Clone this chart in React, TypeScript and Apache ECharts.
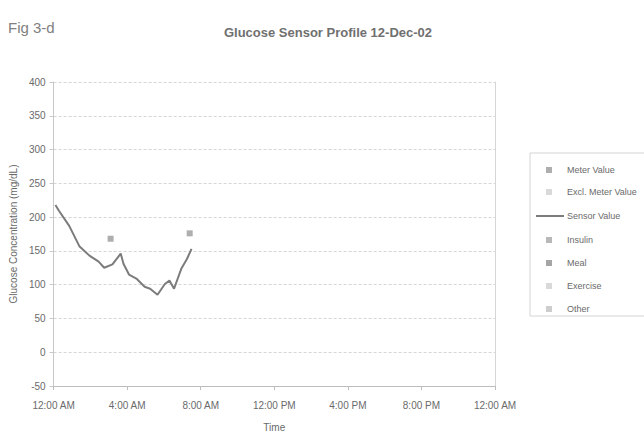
import React, { useEffect, useRef } from "react";
import * as echarts from "echarts";

// Sensor readings: hours after midnight and glucose (mg/dL)
const sensorHours = [0.1, 0.3, 0.85, 1.4, 1.95, 2.45, 2.75, 3.2, 3.65, 3.8, 4.1, 4.5, 4.95, 5.25, 5.65, 6.05, 6.3, 6.55, 6.95, 7.25, 7.5];
const sensorValues = [218, 209, 187, 157, 143, 134, 125, 130, 146, 131, 115, 109, 97, 94, 85, 101, 106, 94, 124, 138, 153];

// Meter readings
const meterHours = [3.1, 7.4];
const meterValues = [168, 176];

// Axis ticks
const xTickHours = [0, 4, 8, 12, 16, 20, 24];
const xTickLabels = ["12:00 AM", "4:00 AM", "8:00 AM", "12:00 PM", "4:00 PM", "8:00 PM", "12:00 AM"];

const legendSquares1 = ["Meter Value", "Excl. Meter Value"];
const legendLine = ["Sensor Value"];
const legendSquares2 = ["Insulin", "Meal", "Exercise", "Other"];

const textColor = "#6a6a6a";

export default function App() {
  const ref = useRef<HTMLDivElement>(null);
  useEffect(() => {
    if (!ref.current) return;
    const chart = echarts.init(ref.current, undefined, { renderer: "svg" });
    const legendText = { fontSize: 9, color: textColor, fontFamily: "Arial, Liberation Sans, sans-serif", lineHeight: 12 };
    chart.setOption({
      animation: false,
      textStyle: { fontFamily: "Arial, Liberation Sans, sans-serif" },
      title: {
        text: "Glucose Sensor Profile 12-Dec-02",
        left: 323,
        textAlign: "center",
        top: 21,
        textStyle: { fontSize: 13, fontWeight: "bold", color: "#707070" },
      },
      graphic: [
        {
          type: "text",
          left: 8,
          top: 20,
          style: { text: "Fig 3-d", fontSize: 15, fill: "#808080", fontFamily: "Arial, Liberation Sans, sans-serif" },
        },
        {
          type: "rect",
          shape: { x: 530, y: 153, width: 116, height: 163 },
          style: { fill: "none", stroke: "#d4d4d4", lineWidth: 1 },
          silent: true,
        },
      ],
      legend: [
        {
          data: legendSquares1.map((n) => ({ name: n, icon: "rect" })),
          orient: "vertical",
          left: 541,
          top: 159,
          itemWidth: 6,
          itemHeight: 6,
          itemGap: 10,
          textStyle: { ...legendText, padding: [0, 0, 0, 10] },
        },
        {
          data: legendLine.map((n) => ({ name: n, icon: "rect" })),
          orient: "vertical",
          left: 531,
          top: 205,
          itemWidth: 28,
          itemHeight: 2,
          textStyle: { ...legendText, padding: [0, 0, 0, -2] },
        },
        {
          data: legendSquares2.map((n) => ({ name: n, icon: "rect" })),
          orient: "vertical",
          left: 541,
          top: 229,
          itemWidth: 6,
          itemHeight: 6,
          itemGap: 11,
          textStyle: { ...legendText, padding: [0, 0, 0, 10] },
        },
      ],
      grid: { left: 48, right: 149, top: 82, bottom: 49, containLabel: false },
      xAxis: {
        type: "value",
        min: 0,
        max: 24,
        interval: 4,
        name: "Time",
        nameLocation: "middle",
        nameGap: 36,
        nameTextStyle: { fontSize: 10, color: textColor },
        axisLine: { show: true, onZero: false, lineStyle: { color: "#bdbdbd" } },
        axisTick: { show: true, length: 4, lineStyle: { color: "#bdbdbd" } },
        axisLabel: {
          fontSize: 10,
          color: textColor,
          margin: 14,
          formatter: (v: number) => {
            const i = xTickHours.indexOf(v);
            return i >= 0 ? xTickLabels[i] : "";
          },
        },
        splitLine: { show: false },
      },
      yAxis: [
        {
          type: "value",
          min: -50,
          max: 400,
          interval: 50,
          name: "Glucose Concentration (mg/dL)",
          nameLocation: "middle",
          nameGap: 34,
          nameTextStyle: { fontSize: 10, color: textColor },
          axisLine: { show: true, lineStyle: { color: "#c8c8c8" } },
          axisTick: { show: true, length: 4, lineStyle: { color: "#c8c8c8" } },
          axisLabel: { fontSize: 10, color: textColor, margin: 8 },
          splitLine: { show: true, lineStyle: { color: "#d6d6d6", type: [3, 2], width: 1 } },
        },
        {
          type: "value",
          min: -50,
          max: 400,
          interval: 50,
          position: "right",
          axisLine: { show: true, lineStyle: { color: "#d6d6d6" } },
          axisTick: { show: false },
          axisLabel: { show: false },
          splitLine: { show: false },
        },
      ],
      series: [
        {
          name: "Meter Value",
          type: "scatter",
          symbol: "rect",
          symbolSize: 6,
          itemStyle: { color: "#9a9a9a" },
          data: meterHours.map((h, i) => [h, meterValues[i]]),
          z: 5,
        },
        { name: "Excl. Meter Value", type: "scatter", symbol: "rect", itemStyle: { color: "#d0d0d0" }, data: [] },
        {
          name: "Sensor Value",
          type: "line",
          showSymbol: false,
          symbol: "none",
          lineStyle: { color: "#7c7c7c", width: 2 },
          itemStyle: { color: "#7c7c7c" },
          data: sensorHours.map((h, i) => [h, sensorValues[i]]),
        },
        { name: "Insulin", type: "scatter", symbol: "rect", itemStyle: { color: "#a6a6a6" }, data: [] },
        { name: "Meal", type: "scatter", symbol: "rect", itemStyle: { color: "#8e8e8e" }, data: [] },
        { name: "Exercise", type: "scatter", symbol: "rect", itemStyle: { color: "#cfcfcf" }, data: [] },
        { name: "Other", type: "scatter", symbol: "rect", itemStyle: { color: "#c0c0c0" }, data: [] },
      ],
    });
    return () => chart.dispose();
  }, []);
  return <div ref={ref} style={{ position: "absolute", left: 0, top: 0, width: 644, height: 437 }} />;
}
